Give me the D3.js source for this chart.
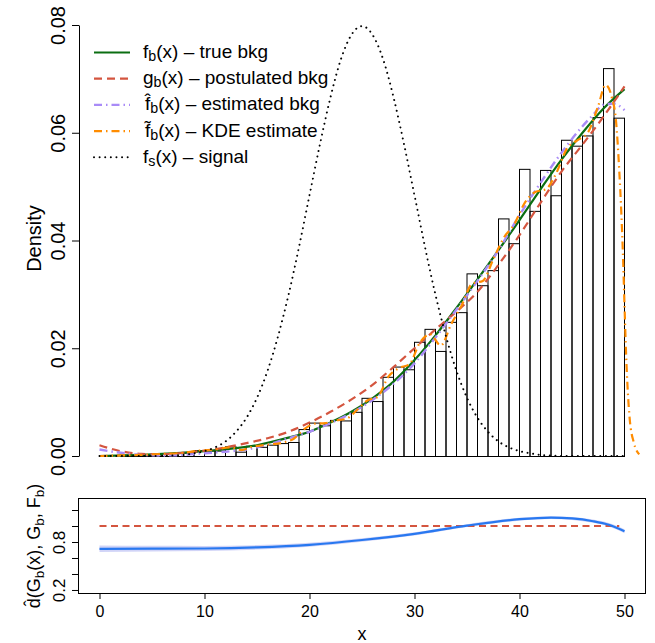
<!DOCTYPE html>
<html>
<head>
<meta charset="utf-8">
<script src="https://cdn.jsdelivr.net/npm/d3@7"></script>
<style>
  body { margin: 0; background: #fff; }
  svg text { font-family: "Liberation Sans", Arial, Helvetica, sans-serif; fill: #000; }
</style>
</head>
<body>
<svg id="chart" width="655" height="643"></svg>
<script>
'use strict';

// histogram of the background sample, bins of width 1 on [0, 50], density scale
var binDensity = [
  0, 0, 0.0002, 0.0002, 0.0002, 0.0004, 0.0004, 0.0006, 0.0006, 0.0011,
  0.0010, 0.0010, 0.0018, 0.0008, 0.0019, 0.0017, 0.0021, 0.0024, 0.0026, 0.0050,
  0.0062, 0.0057, 0.0067, 0.0066, 0.0082, 0.0108, 0.0102, 0.0147, 0.0166, 0.0161,
  0.0212, 0.0236, 0.0195, 0.0249, 0.0267, 0.0339, 0.0317, 0.0345, 0.0441, 0.0395,
  0.0533, 0.0455, 0.0531, 0.0484, 0.0587, 0.0576, 0.0595, 0.0629, 0.0720, 0.0628
];

// f_b(x) - true background
var fbX = [0, 5, 10, 15, 18, 20, 22, 24, 26, 28, 30, 32, 34, 36, 38, 40, 42, 44, 46, 48, 50];
var fbY = [0.0000, 0.0003, 0.0009, 0.0020, 0.0034, 0.0045, 0.0062, 0.0082, 0.0107, 0.0138, 0.0178,
           0.0224, 0.0275, 0.0328, 0.0382, 0.0438, 0.0495, 0.0550, 0.0600, 0.0645, 0.0681];

// g_b(x) - postulated background
var gbX = [0, 2, 4, 6, 8, 10, 12, 14, 16, 18, 20, 22, 24, 26, 28, 30, 32, 34, 36, 38, 40, 42, 44, 46, 48, 50];
var gbY = [0.0020, 0.0009, 0.0004, 0.0003, 0.0006, 0.0010, 0.0016, 0.0024, 0.0033, 0.0045, 0.0062, 0.0082, 0.0105,
           0.0132, 0.0165, 0.0200, 0.0235, 0.0268, 0.0305, 0.0355, 0.0410, 0.0470, 0.0528, 0.0578, 0.0630, 0.0686];

// f-hat_b(x) - estimated background
var fhatX = [0, 2, 4, 6, 8, 10, 12, 14, 16, 18, 20, 22, 24, 26, 28, 30, 32, 34, 36, 38, 40, 42, 44, 46, 47, 48, 49, 50];
var fhatY = [0.0012, 0.0006, 0.0002, 0.0001, 0.0002, 0.0005, 0.0008, 0.0012, 0.0021, 0.0033, 0.0045, 0.0061, 0.0080, 0.0104,
             0.0134, 0.0172, 0.0220, 0.0272, 0.0325, 0.0382, 0.0447, 0.0507, 0.0563, 0.0612, 0.0633, 0.0652, 0.0654, 0.0642];

// f-tilde_b(x) - KDE estimate
var kdeX = [0, 2, 4, 6, 8, 9.5, 11, 12.5, 13.5, 14.5, 16, 17.5, 18.5, 19.5, 20.5, 21.5, 22.5, 23.5, 24.5, 25.5,
            26.5, 27.5, 28.5, 29.5, 30.5, 31.5, 32.5, 33.5, 34.5, 35.5, 36.5, 37.5, 38.5, 39.5, 40.5, 41.5, 42.5,
            43.5, 44.5, 45.5, 46.5, 47.5, 48.2, 48.8, 49.2, 49.5, 49.7, 49.85, 50, 50.15, 50.3, 50.5, 50.9, 51.4];
var kdeY = [0.0000, 0.0001, 0.0002, 0.0004, 0.0006, 0.0010, 0.0012, 0.0016, 0.0011, 0.0017, 0.0021, 0.0025, 0.0032,
            0.0050, 0.0060, 0.0061, 0.0066, 0.0069, 0.0085, 0.0103, 0.0110, 0.0147, 0.0163, 0.0170, 0.0210, 0.0226,
            0.0205, 0.0245, 0.0280, 0.0320, 0.0325, 0.0365, 0.0405, 0.0430, 0.0470, 0.0490, 0.0495, 0.0525, 0.0570,
            0.0586, 0.0600, 0.0650, 0.0689, 0.0665, 0.0620, 0.0530, 0.0450, 0.0375, 0.0280, 0.0190, 0.0125, 0.0068,
            0.0024, 0.0003];

// f_s(x) - signal
var sigX = [0, 1, 2, 3, 4, 5, 6, 7, 8, 9, 10, 11, 12, 13, 14, 15, 16, 17, 18, 19, 20, 21, 22, 23, 24, 25,
            26, 27, 28, 29, 30, 31, 32, 33, 34, 35, 36, 37, 38, 39, 40, 41, 42, 43, 44, 45, 46, 47, 48, 49, 50];
var sigY = [0, 0, 0, 0, 0, 0, 0, 0.0001, 0.0002, 0.0005, 0.0009, 0.0016, 0.0027, 0.0045, 0.0071, 0.0108,
            0.0158, 0.0222, 0.0299, 0.0388, 0.0484, 0.0579, 0.0666, 0.0737, 0.0782, 0.0798, 0.0782, 0.0737,
            0.0666, 0.0579, 0.0484, 0.0388, 0.0299, 0.0222, 0.0158, 0.0108, 0.0071, 0.0045, 0.0027, 0.0016,
            0.0009, 0.0005, 0.0002, 0.0001, 0, 0, 0, 0, 0, 0, 0];

// lower panel: comparison density d-hat with its band, and the reference line at 1
var dX = [0, 5, 10, 15, 20, 25, 30, 35, 40, 43, 45, 47, 48.5, 50];
var dY = [0.715, 0.716, 0.719, 0.733, 0.765, 0.825, 0.902, 1.005, 1.085, 1.105, 1.095, 1.060, 1.015, 0.935];
var dBand = [0.040, 0.036, 0.032, 0.028, 0.025, 0.022, 0.020, 0.018, 0.018, 0.018, 0.019, 0.020, 0.022, 0.025];
var refLevel = 1.0;

// tick labels
var topTicks = [0, 0.02, 0.04, 0.06, 0.08];
var botYTicks = [0.2, 0.4, 0.6, 0.8, 1.0, 1.2];
var botYLabels = [0.2, 0.8];
var xTicks = [0, 10, 20, 30, 40, 50];

var FONT = '"Liberation Sans", Arial, Helvetica, sans-serif';
var colGreen = '#0b6e12', colRed = '#d4553f', colPurple = '#a98bf7', colOrange = '#ff8c00', colBlue = '#2878f0';
var HAT = '\u02C6', TILDE = '\u02DC';

var svg = d3.select('#chart');

var x = d3.scaleLinear().domain([-2, 52]).range([78.5, 645.5]);
var yTop = d3.scaleLinear().domain([0, 0.08]).range([456, 25]);
var yBot = d3.scaleLinear().domain([0.156, 1.344]).range([593.5, 498.5]);

// ---- top panel: histogram
svg.append('g').selectAll('rect')
  .data(binDensity)
  .join('rect')
  .attr('x', function(d, i) { return x(i); })
  .attr('y', function(d) { return yTop(d) + 0.5; })
  .attr('width', x(1) - x(0))
  .attr('height', function(d) { return yTop(0) - yTop(d); })
  .attr('fill', 'none')
  .attr('stroke', '#000')
  .attr('stroke-width', 1);

function curve(xs, ys, scaleY) {
  return d3.line()
    .x(function(d) { return x(d[0]); })
    .y(function(d) { return scaleY(d[1]); })
    .curve(d3.curveMonotoneX)(d3.zip(xs, ys));
}

var styles = {
  fb:   { stroke: colGreen, width: 2.2, dash: null },
  gb:   { stroke: colRed, width: 2.2, dash: '8,5' },
  fhat: { stroke: colPurple, width: 2.4, dash: '8,4,1.5,4' },
  kde:  { stroke: colOrange, width: 2.2, dash: '8,4,1.5,4' },
  sig:  { stroke: '#000', width: 2, dash: '0.01,5.6' }
};

function drawCurve(d, st) {
  svg.append('path')
    .attr('d', d)
    .attr('fill', 'none')
    .attr('stroke', st.stroke)
    .attr('stroke-width', st.width)
    .attr('stroke-dasharray', st.dash)
    .attr('stroke-linecap', st === styles.sig ? 'round' : 'butt');
}

drawCurve(curve(fbX, fbY, yTop), styles.fb);
drawCurve(curve(gbX, gbY, yTop), styles.gb);
drawCurve(curve(fhatX, fhatY, yTop), styles.fhat);
drawCurve(curve(kdeX, kdeY, yTop), styles.kde);
drawCurve(curve(sigX, sigY, yTop), styles.sig);

// top y axis
var gy = svg.append('g')
  .attr('transform', 'translate(79,0)')
  .call(d3.axisLeft(yTop).tickValues(topTicks).tickFormat(d3.format('.2f')).tickSize(7).tickSizeOuter(0));
gy.attr('font-size', 20).attr('font-family', FONT);
gy.selectAll('.tick text')
  .attr('x', null).attr('dy', null)
  .attr('text-anchor', 'middle')
  .attr('transform', 'translate(-14,0) rotate(-90)');

svg.append('text')
  .attr('transform', 'translate(41,' + ((yTop.range()[0] + yTop.range()[1]) / 2 - 2) + ') rotate(-90)')
  .attr('text-anchor', 'middle')
  .attr('font-size', 20)
  .text('Density');

// legend; an accent shares one tspan with its f, placed glyph by glyph
var legendRows = [
  { sym: 'f', sub: 'b', acc: null, rest: '(x) \u2013 true bkg', st: styles.fb },
  { sym: 'g', sub: 'b', acc: null, rest: '(x) \u2013 postulated bkg', st: styles.gb },
  { sym: 'f', sub: 'b', acc: HAT, rest: '(x) \u2013 estimated bkg', st: styles.fhat },
  { sym: 'f', sub: 'b', acc: TILDE, rest: '(x) \u2013 KDE estimate', st: styles.kde },
  { sym: 'f', sub: 's', acc: null, rest: '(x) \u2013 signal', st: styles.sig }
];
var legFs = 19;
legendRows.forEach(function(r, i) {
  var cy = 52.5 + i * 26.2;
  var base = cy + 5.5;
  svg.append('line')
    .attr('x1', 94).attr('x2', 130).attr('y1', cy).attr('y2', cy)
    .attr('stroke', r.st.stroke)
    .attr('stroke-width', r.st.width)
    .attr('stroke-dasharray', r.st.dash)
    .attr('stroke-linecap', r.st === styles.sig ? 'round' : 'butt');
  var tx = r.acc ? 145 : 143;
  var t = svg.append('text').attr('font-size', legFs);
  if (r.acc) {
    t.append('tspan')
      .attr('x', (tx - 0.4) + ' ' + tx)
      .attr('y', (base - 3) + ' ' + base)
      .text(r.acc + r.sym);
  } else {
    t.append('tspan').attr('x', tx).attr('y', base).text(r.sym);
  }
  t.append('tspan').attr('font-size', legFs * 0.75).attr('dy', 3).text(r.sub);
  t.append('tspan').attr('font-size', legFs).attr('dy', -3).text(r.rest);
});

// ---- bottom panel
var band = d3.area()
  .x(function(d) { return x(d[0]); })
  .y0(function(d) { return yBot(d[1] - d[2]); })
  .y1(function(d) { return yBot(d[1] + d[2]); })
  .curve(d3.curveMonotoneX);
svg.append('path')
  .attr('d', band(d3.zip(dX, dY, dBand)))
  .attr('fill', '#c9cdf6')
  .attr('opacity', 0.85);

svg.append('line')
  .attr('x1', x(0)).attr('x2', x(49.5))
  .attr('y1', yBot(refLevel)).attr('y2', yBot(refLevel))
  .attr('stroke', colRed).attr('stroke-width', 2.2).attr('stroke-dasharray', '7,4.5');

drawCurve(curve(dX, dY, yBot), { stroke: colBlue, width: 2.2, dash: null });

svg.append('rect')
  .attr('x', 78.5).attr('y', 498.5)
  .attr('width', 567).attr('height', 95)
  .attr('fill', 'none').attr('stroke', '#000');

var gby = svg.append('g')
  .attr('transform', 'translate(78,0)')
  .call(d3.axisLeft(yBot).tickValues(botYTicks).tickSize(6).tickSizeOuter(0)
    .tickFormat(function(d) { return botYLabels.indexOf(d) >= 0 ? d3.format('.1f')(d) : ''; }));
gby.attr('font-size', 17).attr('font-family', FONT);
gby.select('.domain').remove();
gby.selectAll('.tick text')
  .attr('x', null).attr('dy', null)
  .attr('text-anchor', 'middle')
  .attr('transform', 'translate(-13,0) rotate(-90)');

var gbx = svg.append('g')
  .attr('transform', 'translate(0,593)')
  .call(d3.axisBottom(x).tickValues(xTicks).tickSize(6).tickSizeOuter(0));
gbx.attr('font-size', 16).attr('font-family', FONT);
gbx.select('.domain').remove();
gbx.selectAll('.tick text').attr('dy', null).attr('y', 23.5);

svg.append('text')
  .attr('x', (78.5 + 645.5) / 2).attr('y', 640)
  .attr('text-anchor', 'middle')
  .attr('font-size', 18)
  .text('x');

// rotated label for the lower panel: d-hat(G_b(x), G_b, F_b)
var ylab = svg.append('g')
  .attr('transform', 'translate(40,' + ((593.5 + 498.5) / 2) + ') rotate(-90)');
var yl = ylab.append('text').attr('font-size', 18);
var hatD = yl.append('tspan').text(HAT + 'd');
var parts = [['(G', 0], ['b', 1], ['(x), G', 0], ['b', 1], [', F', 0], ['b', 1], [')', 0]];
var prevSub = 0;
parts.forEach(function(p) {
  var ts = yl.append('tspan').text(p[0]).attr('font-size', p[1] ? 13.5 : 18);
  var dy = (p[1] ? 4 : 0) - (prevSub ? 4 : 0);
  if (dy) ts.attr('dy', dy);
  prevSub = p[1];
});
var hatW = hatD.node().getSubStringLength(0, 1);
var ylLen = yl.node().getComputedTextLength() - hatW;
var x0 = -ylLen / 2;
hatD.attr('x', (x0 + 2) + ' ' + x0).attr('y', '-3 0');
</script>
</body>
</html>
